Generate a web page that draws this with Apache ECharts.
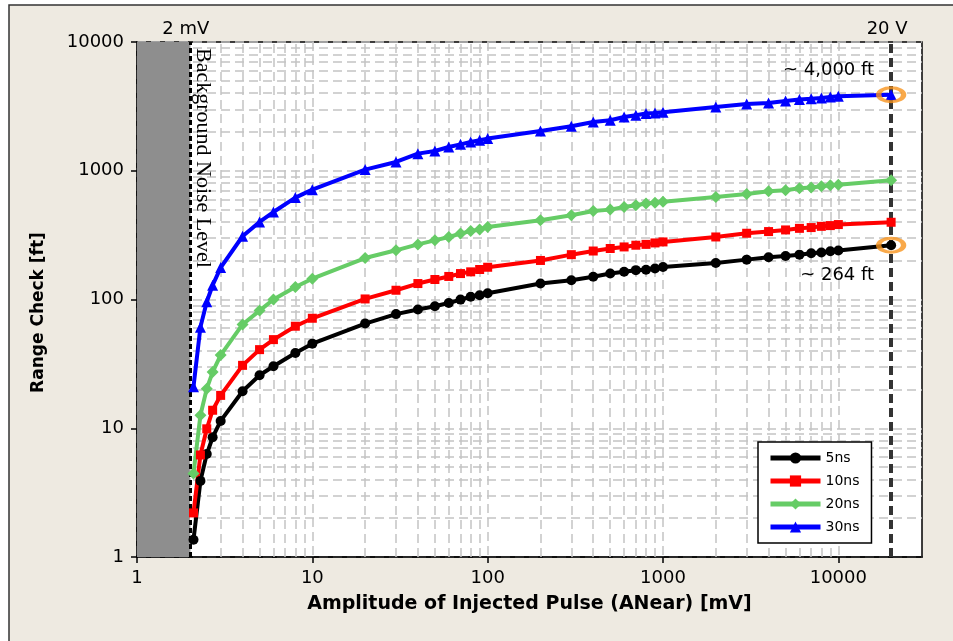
<!DOCTYPE html>
<html><head><meta charset="utf-8">
<script src="https://cdn.jsdelivr.net/npm/echarts@6/dist/echarts.min.js"></script>
<style>html,body{margin:0;padding:0;background:#fff}#c{width:953px;height:641px}</style>
</head><body><div id="c"></div>
<script>
// ---- data ----
const amplitudes = [2.1, 2.3, 2.5, 2.7, 3, 4, 5, 6, 8, 10, 20, 30, 40, 50, 60, 70, 80, 90, 100, 200, 300, 400, 500, 600, 700, 800, 900, 1000, 2000, 3000, 4000, 5000, 6000, 7000, 8000, 9000, 10000, 20000];
const range5ns  = [1.36, 3.9, 6.3, 8.5, 11.4, 19.4, 25.8, 30.3, 38.4, 45.4, 65, 77, 83.5, 88.6, 94, 99.8, 105, 108, 112, 133, 141, 150, 159, 164, 169, 170, 174, 179, 192, 204, 213, 218, 223, 229, 232, 237, 240, 264];
const range10ns = [2.2, 6.2, 9.9, 13.8, 18, 30.8, 40.8, 48.8, 62, 71.5, 101, 118, 133, 143, 151, 159, 164, 171, 178, 201, 223, 238, 249, 256, 264, 268, 275, 280, 306, 327, 337, 347, 357, 362, 370, 375, 382, 398];
const range20ns = [4.45, 12.6, 20.3, 27.3, 37, 64, 82, 100, 125, 145, 210, 241, 268, 288, 306, 325, 340, 349, 365, 412, 451, 487, 499, 523, 539, 556, 565, 575, 625, 660, 692, 705, 730, 740, 757, 771, 780, 845];
const range30ns = [21, 61, 96, 129, 177, 310, 400, 478, 619, 713, 1021, 1170, 1358, 1423, 1528, 1604, 1672, 1723, 1777, 2036, 2215, 2391, 2466, 2615, 2696, 2780, 2812, 2850, 3127, 3300, 3358, 3480, 3570, 3620, 3673, 3740, 3786, 3900];
const seriesNames = ['5ns', '10ns', '20ns', '30ns'];
const xTickLabels = [1, 10, 100, 1000, 10000];
const yTickLabels = [1, 10, 100, 1000, 10000];
const gridMinorX = [2,3,4,5,6,7,8,9, 20,30,40,50,60,70,80,90, 200,300,400,500,600,700,800,900, 2000,3000,4000,5000,6000,7000,8000,9000, 20000];
const gridMinorY = [2,3,4,5,6,7,8,9, 20,30,40,50,60,70,80,90, 200,300,400,500,600,700,800,900, 2000,3000,4000,5000,6000,7000,8000,9000];
const noiseLevel = 2;         // mV
const maxInput = 20000;       // mV (20 V)
const callouts = [
  {x: 20000, y: 3900, text: '~ 4,000 ft', pos: 'above'},
  {x: 20000, y: 264, text: '~ 264 ft', pos: 'below'}
];
const topLabels = [{x: 2, text: '2 mV'}, {x: 20000, text: '20 V'}];

// ---- chart ----
const chart = echarts.init(document.getElementById('c'), null, {renderer: 'canvas'});
const FONT = 'DejaVu Sans';
const isDecade = v => { const l = Math.log10(v); return Math.abs(l - Math.round(l)) < 1e-6; };

function lineSeries(name, data, color, symbol, size) {
  return {
    name, type: 'line', data: amplitudes.map((x, i) => [x, data[i]]),
    symbol, symbolSize: size, showSymbol: true, showAllSymbol: true,
    lineStyle: {width: 4, color}, itemStyle: {color},
    z: 10, animation: false, emphasis: {disabled: true}
  };
}

const dash = {color: '#c4c4c4', width: 1.5, type: [9, 5]};

const option = {
  backgroundColor: '#ffffff',
  animation: false,
  grid: {left: 137, right: 31, top: 42, bottom: 84, show: true, backgroundColor: '#fff',
         borderColor: '#000', borderWidth: 1.5, outerBoundsMode: 'none'},
  legend: {
    data: seriesNames, orient: 'vertical', left: 758, top: 442,
    padding: [9, 12, 9, 10], itemGap: 9, itemWidth: 50, itemHeight: 14,
    backgroundColor: '#fff', borderColor: '#000', borderWidth: 1.5, borderRadius: 0,
    lineStyle: {width: 5},
    textStyle: {fontFamily: FONT, fontSize: 14, color: '#000'}
  },
  xAxis: {
    type: 'log', logBase: 10, min: 1, max: 30000,
    axisLine: {show: true, lineStyle: {color: '#000', width: 1.5}},
    axisTick: {show: true, inside: false, length: 6, lineStyle: {color: '#000', width: 1.5}, customValues: xTickLabels},
    axisLabel: {customValues: xTickLabels, formatter: v => isDecade(v) ? String(Math.round(v)) : '',
                fontFamily: FONT, fontSize: 18, color: '#000', margin: 12},
    splitLine: {show: true, lineStyle: dash},
    name: 'Amplitude of Injected Pulse (ANear) [mV]', nameLocation: 'middle', nameGap: 38,
    nameTextStyle: {fontFamily: FONT, fontWeight: 'bold', fontSize: 19, color: '#000'}
  },
  yAxis: {
    type: 'log', logBase: 10, min: 1, max: 10000,
    axisLine: {show: true, lineStyle: {color: '#000', width: 1.5}},
    axisTick: {show: true, inside: false, length: 6, lineStyle: {color: '#000', width: 1.5}, customValues: yTickLabels},
    axisLabel: {customValues: yTickLabels, formatter: v => isDecade(v) ? String(Math.round(v)) : '',
                fontFamily: FONT, fontSize: 18, color: '#000', margin: 13},
    splitLine: {show: true, lineStyle: dash},
    name: 'Range Check [ft]', nameLocation: 'middle', nameGap: 90,
    nameTextStyle: {fontFamily: FONT, fontWeight: 'bold', fontSize: 17, color: '#000', padding: [0, 26, 0, 0]}
  },
  series: [
    { // minor grid
      name: 'gridMinor', type: 'scatter', data: [], symbol: 'none', silent: true, z: 1,
      markLine: {silent: true, symbol: 'none', z: 1, animation: false, label: {show: false},
                 lineStyle: dash, emphasis: {disabled: true},
                 data: gridMinorX.map(v => ({xAxis: v})).concat(gridMinorY.map(v => ({yAxis: v})))}
    },
    { // noise region
      name: 'noiseArea', type: 'scatter', data: [], symbol: 'none', silent: true, z: 2,
      markArea: {silent: true, z: 2, itemStyle: {color: '#8e8e8e'}, label: {show: false},
                 data: [[{xAxis: 1}, {xAxis: noiseLevel}]]}
    },
    {
      name: 'limits', type: 'scatter', data: [], symbol: 'none', silent: true, z: 3,
      markLine: {silent: true, symbol: 'none', z: 3, animation: false, label: {show: false},
                 emphasis: {disabled: true},
                 data: [
                   {xAxis: noiseLevel, lineStyle: {color: '#000', width: 3, type: [5, 3]}},
                   {xAxis: maxInput, lineStyle: {color: '#333', width: 4, type: [9, 5]}}
                 ]}
    },
    lineSeries('5ns', range5ns, '#000000', 'circle', 10),
    lineSeries('10ns', range10ns, '#ff0000', 'rect', 9),
    lineSeries('20ns', range20ns, '#66cc66', 'diamond', 12),
    lineSeries('30ns', range30ns, '#0000ff', 'triangle', 11),
    {
      name: 'callouts', type: 'scatter', z: 11, silent: true,
      data: callouts.map(c => [c.x, c.y]), symbol: 'circle', symbolSize: [25, 14],
      itemStyle: {color: 'rgba(0,0,0,0)', borderColor: '#f7941d', borderWidth: 4}
    }
  ]
};
chart.setOption(option);

const px = (x, y) => chart.convertToPixel({xAxisIndex: 0, yAxisIndex: 0}, [x, y]);
const graphics = [];
graphics.push({type: 'rect', z: -100, silent: true, shape: {x: 9, y: 5, width: 3000, height: 3000},
               style: {fill: '#eeeae1', stroke: '#333', lineWidth: 1.5}});
topLabels.forEach(t => {
  const p = px(t.x, 10000);
  graphics.push({type: 'text', x: p[0] - 4, y: 29, silent: true,
    style: {text: t.text, font: '18px "DejaVu Sans"', fill: '#000', align: 'center', verticalAlign: 'middle'}});
});
{
  const p = px(noiseLevel, 10000);
  graphics.push({type: 'text', x: p[0] + 2, y: 48, rotation: -Math.PI / 2, silent: true, z: 50,
    style: {text: 'Background Noise Level', font: '22px "Liberation Serif"', fill: '#000', align: 'left', verticalAlign: 'bottom'}});
}
callouts.forEach(c => {
  const p = px(c.x, c.y);
  graphics.push({type: 'text', x: p[0] - 17, y: c.pos === 'above' ? p[1] - 24 : p[1] + 30, silent: true, z: 50,
    style: {text: c.text, font: '18px "DejaVu Sans"', fill: '#000', align: 'right', verticalAlign: 'middle'}});
});
chart.setOption({graphic: graphics});
</script></body></html>
